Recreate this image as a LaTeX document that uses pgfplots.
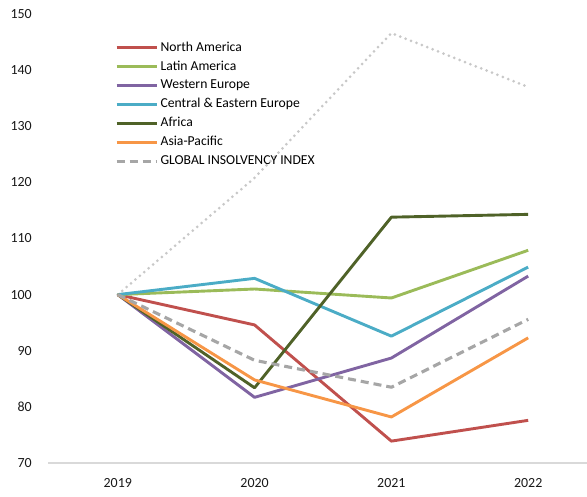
\documentclass[border=0pt]{standalone}
\usepackage{pgfplots}
\pgfplotsset{compat=1.18}
\usepackage{fontspec}
\setmainfont{Carlito}
\definecolor{cNA}{HTML}{C0504D}
\definecolor{cLA}{HTML}{9BBB59}
\definecolor{cWE}{HTML}{8064A2}
\definecolor{cCE}{HTML}{4BACC6}
\definecolor{cAF}{HTML}{4F6228}
\definecolor{cAP}{HTML}{F79646}
\definecolor{cGL}{HTML}{A6A6A6}
\definecolor{cDT}{HTML}{C8C8C8}
\definecolor{cAX}{HTML}{D9D9D9}
\begin{document}
\begin{tikzpicture}
\begin{axis}[
  scale only axis, width=539bp, height=449bp,
  xmin=-0.51, xmax=3.43, ymin=70, ymax=150,
  axis x line*=bottom, axis y line*=left,
  x axis line style={cAX, line width=1.4bp, -},
  y axis line style={draw=none},
  xtick={0,1,2,3}, xticklabels={2019,2020,2021,2022},
  ytick={70,80,...,150},
  major tick length=0pt,
  /pgf/number format/assume math mode=true,
  tick label style={font=\fontsize{14}{16}\selectfont, text=black!90},
  yticklabel style={anchor=east, inner sep=0pt, xshift=-16bp},
  xticklabel style={anchor=north, inner sep=0pt, yshift=-15bp},
  clip=false,
  legend cell align=left,
  legend style={draw=none, fill=none, at={(rel axis cs:0.124,0.94)}, anchor=north west,
    font=\fontsize{13.7}{15}\selectfont, row sep=5.4bp, inner sep=0pt,
    nodes={inner ysep=0pt, inner xsep=2.5bp, text height=10bp, text depth=3.5bp}},
  legend image code/.code={\draw[#1] (0bp,0bp) -- (40bp,0bp);},
  every axis plot/.append style={line width=2.9bp, line join=round},
]
\addplot[cDT, line width=3bp, line cap=round, dash pattern=on 0bp off 5.8bp, forget plot] coordinates {(0,100) (1,120.8) (2,146.6) (3,137.0)};
\addplot[cNA] coordinates {(0,100) (1,94.6) (2,73.9) (3,77.6)};
\addlegendentry{North America}
\addplot[cLA] coordinates {(0,100) (1,101.0) (2,99.4) (3,107.9)};
\addlegendentry{Latin America}
\addplot[cWE] coordinates {(0,100) (1,81.7) (2,88.7) (3,103.3)};
\addlegendentry{Western Europe}
\addplot[cCE] coordinates {(0,100) (1,102.9) (2,92.6) (3,104.9)};
\addlegendentry{Central \& Eastern Europe}
\addplot[cAF] coordinates {(0,100) (1,83.4) (2,113.8) (3,114.3)};
\addlegendentry{Africa}
\addplot[cAP] coordinates {(0,100) (1,84.8) (2,78.2) (3,92.3)};
\addlegendentry{Asia-Pacific}
\addplot[cGL, line width=3.1bp, dash pattern=on 8bp off 5bp] coordinates {(0,100) (1,88.3) (2,83.5) (3,95.6)};
\addlegendentry{GLOBAL INSOLVENCY INDEX}
\end{axis}
\pgfresetboundingbox
\path (-48bp,-34bp) rectangle (539bp,463bp);
\end{tikzpicture}
\end{document}
